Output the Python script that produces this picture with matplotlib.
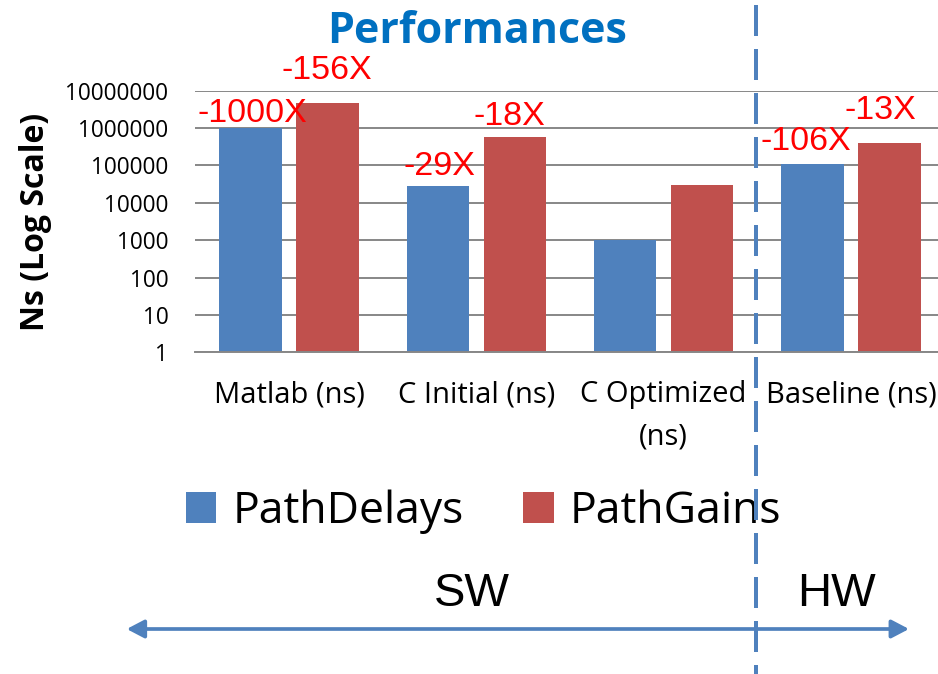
import numpy as np
import matplotlib
matplotlib.use("Agg")
import matplotlib.pyplot as plt
from matplotlib.patches import FancyArrowPatch

# ---- data -------------------------------------------------------------
categories = ["Matlab (ns)", "C Initial (ns)", "C Optimized\n(ns)", "Baseline (ns)"]
path_delays = [1000000, 29000, 1000, 106000]
path_gains = [4750000, 560000, 30600, 410000]
delay_labels = ["-1000X", "-29X", None, "-106X"]
gain_labels = ["-156X", "-18X", None, "-13X"]
ytick_values = [1, 10, 100, 1000, 10000, 100000, 1000000, 10000000]
ytick_labels = ["1", "10", "100", "1000", "10000", "100000", "1000000", "10000000"]

# hand placement of the speed-up callouts (pixels: dx, dy above bar top)
delay_nudge = [(1.5, 6), (2, 11), None, (-7, 14.5)]
gain_nudge = [(-1, 24), (-5.5, 12.5), None, (-9, 24)]

BLUE = "#4F81BD"
RED = "#C0504D"
GRID = "#878787"
DPI = 100
W, H = 938, 674
PX = 72.0 / DPI  # points per pixel

plt.rcParams["font.family"] = ["Open Sans", "DejaVu Sans"]
plt.rcParams["lines.scale_dashes"] = False

fig = plt.figure(figsize=(W / DPI, H / DPI), dpi=DPI)
fig.patch.set_facecolor("white")

# main axes (right side runs past the canvas edge)
ax = fig.add_axes([195.4 / W, 321.7 / H, 749.2 / W, 261.6 / H])
ax.set_yscale("log")
ax.set_ylim(1, 1e7)
ax.set_xlim(-0.5, len(categories) - 0.5)

x = np.arange(len(categories))
off, bw = 0.2056, 0.334
b1 = ax.bar(x - off, path_delays, width=bw, color=BLUE, label="PathDelays", zorder=2)
b2 = ax.bar(x + off, path_gains, width=bw, color=RED, label="PathGains", zorder=2)

ax.set_yticks(ytick_values)
ax.set_yticklabels(ytick_labels)
ax.yaxis.set_minor_locator(matplotlib.ticker.NullLocator())
ax.tick_params(axis="y", length=0, pad=19.5, labelsize=16.3)
ax.set_xticks(x)
ax.set_xticklabels(categories, fontsize=21, linespacing=1.6)
ax.tick_params(axis="x", length=0, pad=20)

ax.yaxis.grid(True, color=GRID, linewidth=1.4)
ax.set_axisbelow(True)
for side in ("top", "right", "left"):
    ax.spines[side].set_visible(False)
ax.spines["bottom"].set_color(GRID)
ax.spines["bottom"].set_linewidth(1.4)

# speed-up callouts
for xs, vals, labs, nudges in ((x - off, path_delays, delay_labels, delay_nudge),
                               (x + off, path_gains, gain_labels, gain_nudge)):
    for xi, v, lab, nd in zip(xs, vals, labs, nudges):
        if lab is None:
            continue
        ax.annotate(lab, xy=(xi, v), xytext=(nd[0] * PX, nd[1] * PX),
                    textcoords="offset points", ha="center", va="baseline",
                    color="red", fontsize=24.5, family=["Liberation Sans"],
                    annotation_clip=False, zorder=5)

# title and y label
fig.text(477.5 / W, 1 - 43 / H, "Performances", ha="center", va="baseline",
         fontsize=31, fontweight="bold", color="#0070C0")
fig.text(36 / W, 1 - 221.5 / H, "Ns (Log Scale)", rotation=90, ha="center",
         va="center", fontsize=23, fontweight="bold")

# legend
fig.legend(handles=[b1, b2], loc="center left",
           bbox_to_anchor=(186 / W, 1 - 512 / H), ncol=2, frameon=False,
           fontsize=32, handlelength=0.68, handleheight=0.68,
           handletextpad=0.36, columnspacing=1.35, borderpad=0, borderaxespad=0)

# overlay in pixel coordinates for the SW / HW annotation
ov = fig.add_axes([0, 0, 1, 1], zorder=10)
ov.set_xlim(0, W)
ov.set_ylim(H, 0)
ov.axis("off")
ov.patch.set_alpha(0)

ov.plot([756, 756], [5, H + 5], color=BLUE, linewidth=4 * PX,
        linestyle=(0, (31 * PX, 13 * PX)))

arrow = FancyArrowPatch((126.7, 629), (909, 629),
                        arrowstyle="<|-|>,head_length=10.5,head_width=5.5",
                        mutation_scale=1, linewidth=3.7 * PX, color=BLUE,
                        shrinkA=0, shrinkB=0)
ov.add_patch(arrow)

ov.text(471.7, 606, "SW", ha="center", va="baseline", fontsize=34,
        family=["Liberation Sans"])
ov.text(836.5, 606, "HW", ha="center", va="baseline", fontsize=34,
        family=["Liberation Sans"])

fig.savefig("out.png", dpi=DPI)
